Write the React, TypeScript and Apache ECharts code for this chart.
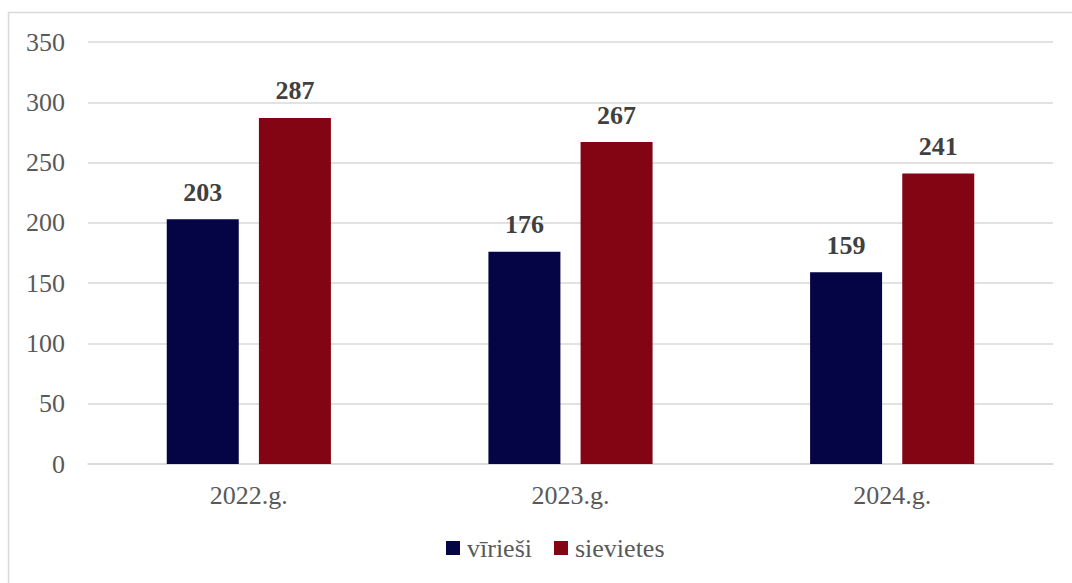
import React, { useEffect, useRef } from "react";
import * as echarts from "echarts";

const categories = ["2022.g.", "2023.g.", "2024.g."];
const men = [203, 176, 159];
const women = [287, 267, 241];
const seriesNames = ["vīrieši", "sievietes"];

export default function App() {
  const ref = useRef<HTMLDivElement>(null);
  useEffect(() => {
    document.body.style.margin = "0";
    const chart = echarts.init(ref.current!, null, { renderer: "svg" });
    const font = "Liberation Serif";
    const axisText = {
      fontFamily: font,
      fontSize: 26,
      fontWeight: "normal",
      color: "#595959",
    };
    const dataLabel = {
      show: true,
      position: "top",
      distance: 14,
      fontFamily: font,
      fontSize: 26,
      fontWeight: "bold",
      color: "#404040",
    };
    chart.setOption({
      animation: false,
      backgroundColor: "#ffffff",
      textStyle: { fontFamily: font },
      graphic: [
        {
          type: "rect",
          shape: { x: 8.5, y: 12.5, width: 1070, height: 580 },
          style: { fill: "none", stroke: "#d9d9d9", lineWidth: 1.5 },
          silent: true,
        },
      ],
      grid: { left: 88, right: 19, top: 42, bottom: 119 },
      legend: {
        bottom: 17,
        left: 441,
        itemWidth: 14,
        itemHeight: 14,
        itemGap: 22,
        icon: "rect",
        textStyle: { ...axisText, padding: [0, 0, 0, 2] },
        data: seriesNames,
      },
      xAxis: {
        type: "category",
        data: categories,
        axisLine: { lineStyle: { color: "#d9d9d9", width: 1.5 } },
        axisTick: { show: false },
        axisLabel: { ...axisText, margin: 18 },
      },
      yAxis: {
        type: "value",
        min: 0,
        max: 350,
        interval: 50,
        axisLine: { show: false },
        axisTick: { show: false },
        splitLine: { lineStyle: { color: "#d9d9d9", width: 1.5 } },
        axisLabel: { ...axisText, margin: 23 },
      },
      series: [
        {
          name: seriesNames[0],
          type: "bar",
          data: men,
          barWidth: 72,
          barGap: "28%",
          itemStyle: { color: "#050545" },
          label: dataLabel,
        },
        {
          name: seriesNames[1],
          type: "bar",
          data: women,
          barWidth: 72,
          itemStyle: { color: "#830514" },
          label: dataLabel,
        },
      ],
    });
    return () => chart.dispose();
  }, []);
  return <div ref={ref} style={{ width: 1072, height: 583 }} />;
}
